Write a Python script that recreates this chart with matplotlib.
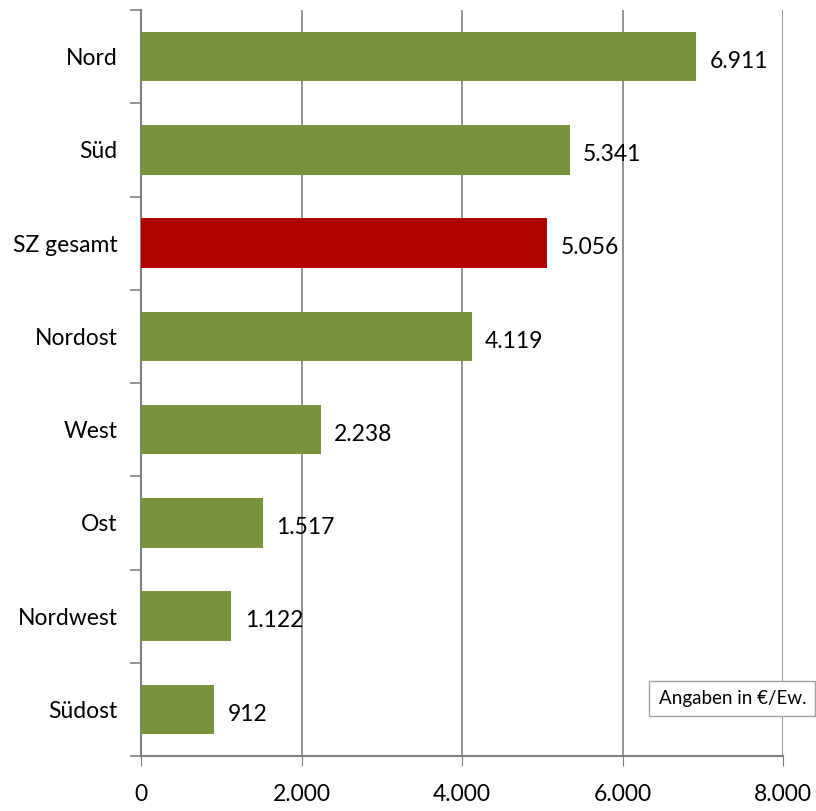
import matplotlib
matplotlib.use("Agg")
import matplotlib.pyplot as plt
from matplotlib.ticker import FixedLocator, FuncFormatter

categories = ["Nord", "Süd", "SZ gesamt", "Nordost", "West", "Ost", "Nordwest", "Südost"]
values = [6911, 5341, 5056, 4119, 2238, 1517, 1122, 912]
colors = ["#77933C", "#77933C", "#B00000", "#77933C", "#77933C", "#77933C", "#77933C", "#77933C"]
xticks = [0, 2000, 4000, 6000, 8000]

plt.rcParams['font.family'] = ['Lato', 'DejaVu Sans']
FS = 16.5

fig = plt.figure(figsize=(8.16, 8.11), dpi=100)
ax = fig.add_axes([141/816, 1-756/811, (783-141)/816, (756-10)/811])

n = len(categories)
ypos = list(range(n))
ax.barh(ypos, values, height=0.53, color=colors, zorder=3)
ax.set_ylim(n - 0.5, -0.5)
ax.set_xlim(0, 8000)

def fmt(v):
    return f"{v:,.0f}".replace(",", ".")

for y, v in zip(ypos, values):
    ax.text(v + 170, y + 0.05, fmt(v), va="center", ha="left", fontsize=FS, color="black")

ax.set_xticks(xticks)
ax.xaxis.set_major_formatter(FuncFormatter(lambda v, p: fmt(v)))
ax.tick_params(axis="x", direction="out", length=7, color="#808080", labelsize=FS, pad=13)
ax.xaxis.grid(True, color="#808080", linewidth=1.2, zorder=0)

ax.yaxis.set_major_locator(FixedLocator([i - 0.5 for i in range(n + 1)]))
ax.yaxis.set_major_formatter(FuncFormatter(lambda v, p: ""))
ax.yaxis.set_minor_locator(FixedLocator(ypos))
ax.set_yticklabels(categories, minor=True)
ax.tick_params(axis="y", which="major", direction="out", length=8, color="#808080", width=1.2)
ax.tick_params(axis="y", which="minor", length=0, labelsize=FS, pad=17)

for s in ["top", "right"]:
    ax.spines[s].set_visible(False)
for s in ["left", "bottom"]:
    ax.spines[s].set_color("#808080")
    ax.spines[s].set_linewidth(1.5)

ax.text(1.036, 0.077, "Angaben in €/Ew.", transform=ax.transAxes, ha="right", va="center",
        fontsize=13.5, bbox=dict(boxstyle="square,pad=0.5", facecolor="white", edgecolor="#A0A0A0"),
        zorder=5, clip_on=False)

fig.savefig("out.png", dpi=100)
